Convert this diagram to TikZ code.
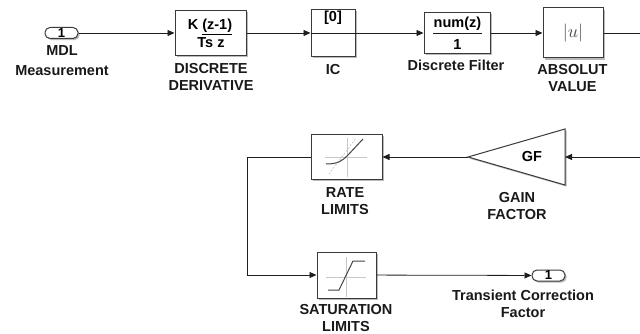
\documentclass[tikz,border=0pt]{standalone}
\usepackage{graphicx}
\usepackage{fontspec}
\setmainfont{Liberation Sans}
\usetikzlibrary{arrows.meta,shadows}
\definecolor{wire}{HTML}{1E1E1E}
\definecolor{frame}{HTML}{3A3A3A}
\definecolor{axis}{HTML}{C8C8C8}
\definecolor{trace}{HTML}{444444}
\tikzset{
  wire/.style={draw=wire, line width=0.8pt},
  sig/.style={wire, -{Triangle[length=7pt,width=6pt]}},
  blk/.style={draw=frame, line width=1pt, fill=white, inner sep=0pt,
    drop shadow={shadow xshift=1.6pt, shadow yshift=-1.6pt, fill=black!45, opacity=0.6}},
  port/.style={blk, rounded corners=5pt, minimum width=33pt, minimum height=11pt,
    font=\bfseries\fontsize{13}{13}\selectfont},
  lbl/.style={align=center, inner sep=0pt, text=black!90,
    font=\bfseries\fontsize{14.5}{17}\selectfont},
  btxt/.style={inner sep=0pt, font=\bfseries\fontsize{14.5}{17}\selectfont},
  icoaxis/.style={draw=axis, line width=0.7pt},
  icotrace/.style={draw=trace, line width=1pt}
}
\begin{document}
\begin{tikzpicture}[x=1pt,y=-1pt]
\useasboundingbox (0,0) rectangle (640,334);

% ---- forward path (top row)
\node[port] (in1) at (61.5,33) {1};
\node[lbl] (in1lbl) at (62,60.5) {MDL\\[3pt]Measurement};

\node[blk, minimum width=71pt, minimum height=45pt] (deriv) at (210.5,33) {};
\node[btxt] (derivnum) at (210,27) {K \underline{(z-1)}};
\node[btxt] (derivden) at (211,43) {Ts z};
\node[lbl] (derivlbl) at (211,76.5) {DISCRETE\\DERIVATIVE};

\node[blk, minimum width=44pt, minimum height=47pt] (ic) at (333,33) {};
\node[btxt] (icval) at (333,17.5) {[0]};
\node[lbl] (iclbl) at (333,70) {IC};

\node[blk, minimum width=66pt, minimum height=41pt] (filt) at (457,33) {};
\node[btxt] (filtnum) at (457.5,24) {num(z)};
\node[btxt] (filtden) at (457.5,45) {1};
\node[lbl] (filtlbl) at (456,65) {Discrete Filter};

\node[blk, minimum width=60pt, minimum height=50pt] (absv) at (573,33) {};
\node[inner sep=0pt, text=black!70] (abstxt) at (573,33) {\scalebox{1.8}{$|u|$}};
\node[lbl] (abslbl) at (572.5,78.5) {ABSOLUT\\VALUE};

\coordinate (outR) at (640,33);

\draw[sig] (in1) -- (deriv);
\draw[sig] (deriv) -- (ic);
\draw[wire] (ic.west) -- (ic.east);
\draw[sig] (ic) -- (filt);
% fraction bar of the filter
\draw[wire] (433,33) -- (482,33);
\draw[sig] (filt) -- (absv);
\draw[wire] (absv) -- (outR);

% ---- return path (gain and limits)
\coordinate (inR) at (640,157);
\coordinate (gainin) at (565,157);
\coordinate (gainout) at (468,157);
\draw[draw=frame, line width=1pt, fill=white,
  drop shadow={shadow xshift=1.6pt, shadow yshift=-1.6pt, fill=black!45, opacity=0.6}]
  (565,129) -- (565,185) -- (gainout) -- cycle;
\node[btxt] (gaintxt) at (532,157) {GF};
\node[lbl] (gainlbl) at (517,206.5) {GAIN\\FACTOR};

\node[blk, minimum width=71pt, minimum height=45pt] (rate) at (346.5,157) {};
\node[lbl] (ratelbl) at (345,201) {RATE\\LIMITS};
% rate limiter icon
\draw[icoaxis] (325,157) -- (367,157);
\draw[icoaxis] (347,138) -- (347,177);
\draw[icoaxis, dash pattern=on 2pt off 1.5pt] (329,174) -- (356,138);
\draw[icotrace] (326,164) .. controls (338,164) and (342,161) .. (348,155) -- (363,139);

\node[blk, minimum width=59pt, minimum height=46pt] (sat) at (346.5,275) {};
\node[lbl] (satlbl) at (346,318) {SATURATION\\LIMITS};
% saturation icon
\draw[icoaxis] (326,277) -- (366,277);
\draw[icoaxis] (346,257) -- (346,297);
\draw[icotrace] (328,290) -- (339,290) -- (353,261) -- (365,261);

\node[port] (out1) at (548.5,275.5) {1};
\node[lbl] (outlbl) at (523,303.5) {Transient Correction\\Factor};

\coordinate (bend1) at (247,157);
\coordinate (bend2) at (247,275);

\draw[sig] (inR) -- (gainin);
\draw[sig] (gainout) -- (rate);
\draw[sig] (rate.west) -- (bend1) -- (bend2) -- (sat.west);
\draw[sig] (sat) -- (out1);
\end{tikzpicture}
\end{document}
